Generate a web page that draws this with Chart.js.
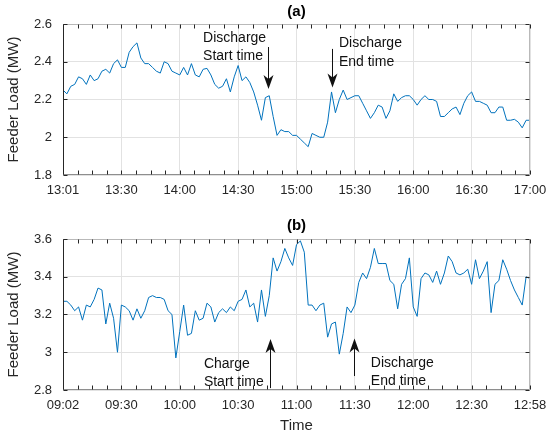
<!DOCTYPE html>
<html>
<head>
<meta charset="utf-8">
<script src="https://cdn.jsdelivr.net/npm/chart.js@4.4.1/dist/chart.umd.min.js"></script>
<style>
  body { margin: 0; background: #fff; }
  canvas { display: block; }
</style>
</head>
<body>
<canvas id="chartA" width="559" height="205"></canvas>
<canvas id="chartB" width="559" height="236"></canvas>
<script>
const timeLabelsA = ['13:01', '13:30', '14:00', '14:30', '15:00', '15:30', '16:00', '16:30', '17:00'];
const timeLabelsB = ['09:02', '09:30', '10:00', '10:30', '11:00', '11:30', '12:00', '12:30', '12:58'];

// feeder load, MW, one value every ~2 minutes
const loadA = [
  2.25, 2.23, 2.27, 2.28, 2.32, 2.31, 2.28, 2.33, 2.30, 2.31,
  2.35, 2.36, 2.34, 2.39, 2.41, 2.37, 2.37, 2.45, 2.48, 2.50,
  2.42, 2.39, 2.39, 2.37, 2.35, 2.34, 2.40, 2.39, 2.35, 2.34,
  2.33, 2.37, 2.33, 2.39, 2.33, 2.32, 2.36, 2.365, 2.33, 2.28,
  2.26, 2.27, 2.31, 2.24, 2.32, 2.38, 2.30, 2.32, 2.29, 2.24,
  2.17, 2.09, 2.21, 2.22, 2.11, 2.01, 2.04, 2.03, 2.03, 2.01,
  2.01, 1.99, 1.97, 1.95, 2.02, 2.01, 2.00, 2.00, 2.08, 2.24,
  2.13, 2.20, 2.25, 2.20, 2.21, 2.22, 2.22, 2.18, 2.14, 2.10,
  2.13, 2.17, 2.16, 2.10, 2.14, 2.23, 2.19, 2.21, 2.22, 2.22,
  2.20, 2.17, 2.20, 2.22, 2.20, 2.20, 2.19, 2.11, 2.11, 2.13,
  2.15, 2.16, 2.12, 2.18, 2.22, 2.24, 2.19, 2.19, 2.18, 2.17,
  2.13, 2.13, 2.16, 2.16, 2.09, 2.09, 2.095, 2.08, 2.05, 2.09,
  2.09
];
const loadB = [
  3.27, 3.27, 3.25, 3.22, 3.24, 3.17, 3.25, 3.24, 3.28, 3.34,
  3.33, 3.15, 3.26, 3.18, 3.00, 3.25, 3.24, 3.22, 3.17, 3.23,
  3.18, 3.22, 3.29, 3.30, 3.29, 3.29, 3.28, 3.22, 3.20, 2.97,
  3.11, 3.25, 3.09, 3.10, 3.22, 3.17, 3.18, 3.26, 3.24, 3.16,
  3.21, 3.23, 3.21, 3.24, 3.22, 3.27, 3.28, 3.33, 3.24, 3.26,
  3.16, 3.33, 3.19, 3.30, 3.50, 3.43, 3.48, 3.55, 3.50, 3.46,
  3.57, 3.59, 3.53, 3.25, 3.25, 3.22, 3.25, 3.26, 3.08, 3.15,
  3.16, 2.99, 3.10, 3.24, 3.21, 3.25, 3.37, 3.42, 3.39, 3.45,
  3.55, 3.47, 3.47, 3.47, 3.38, 3.36, 3.23, 3.36, 3.39, 3.50,
  3.24, 3.19, 3.39, 3.42, 3.41, 3.37, 3.43, 3.36, 3.42, 3.51,
  3.48, 3.42, 3.41, 3.42, 3.44, 3.36, 3.49, 3.39, 3.43, 3.48,
  3.21, 3.36, 3.38, 3.49, 3.44, 3.38, 3.33, 3.29, 3.25, 3.40,
  3.39
];
const yTicksA = [1.8, 2, 2.2, 2.4, 2.6];
const yTicksB = [2.8, 3, 3.2, 3.4, 3.6];

// text + arrow annotations, in data units (x = sample index, y = MW)
const notesA = [
  { lines: ['Discharge', 'Start time'], x: 36, y: 2.505, arrowX: 52.7, from: 2.478, to: 2.255 },
  { lines: ['Discharge', 'End time'], x: 70.9, y: 2.478, arrowX: 69, from: 2.468, to: 2.264 }
];
const notesB = [
  { lines: ['Charge', 'Start time'], x: 36.2, y: 2.918, arrowX: 53.2, from: 2.81, to: 3.07 },
  { lines: ['Discharge', 'End time'], x: 79.1, y: 2.923, arrowX: 74.9, from: 2.874, to: 3.073 }
];

const FONT = '"Liberation Sans", Arial, Helvetica, sans-serif';
Chart.defaults.font.family = FONT;
Chart.defaults.color = '#262626';

function framePlugin(notes) {
  return {
    id: 'frame',
    afterDatasetsDraw(chart) {
      const { ctx, chartArea: a, scales: { x, y } } = chart;
      const L = Math.round(a.left) + 0.5, R = Math.round(a.right) - 0.5;
      const T = Math.round(a.top) + 0.5, B = Math.round(a.bottom) - 0.5;
      ctx.save();
      ctx.lineWidth = 1;

      ctx.strokeStyle = '#b9b9b9';
      ctx.beginPath(); ctx.moveTo(L, T); ctx.lineTo(R, T); ctx.lineTo(R, B); ctx.stroke();
      ctx.strokeStyle = '#8e8e8e';
      ctx.beginPath(); ctx.moveTo(L, B); ctx.lineTo(R, B); ctx.stroke();
      ctx.strokeStyle = '#262626';
      ctx.beginPath(); ctx.moveTo(L, T); ctx.lineTo(L, B); ctx.stroke();

      // inward ticks, minor ones on x
      ctx.beginPath();
      const step = (x.ticks[1].value - x.ticks[0].value) / 4;
      for (let v = x.min; v <= x.max + 1e-6; v += step) {
        const px = Math.round(x.getPixelForValue(v)) + 0.5;
        ctx.moveTo(px, T); ctx.lineTo(px, T + 4);
        ctx.moveTo(px, B); ctx.lineTo(px, B - 4);
      }
      y.ticks.forEach(t => {
        const py = Math.round(y.getPixelForValue(t.value)) + 0.5;
        ctx.moveTo(L, py); ctx.lineTo(L + 4, py);
        ctx.moveTo(R, py); ctx.lineTo(R - 4, py);
      });
      ctx.stroke();

      ctx.font = '14px ' + FONT;
      ctx.fillStyle = '#111';
      ctx.strokeStyle = '#111';
      ctx.textBaseline = 'alphabetic';
      notes.forEach(n => {
        const tx = x.getPixelForValue(n.x), ty = y.getPixelForValue(n.y);
        n.lines.forEach((s, k) => ctx.fillText(s, tx, ty + k * 18.5));
        const ax = Math.round(x.getPixelForValue(n.arrowX)) + 0.5;
        const y0 = y.getPixelForValue(n.from), y1 = y.getPixelForValue(n.to);
        const dir = Math.sign(y1 - y0);
        ctx.beginPath(); ctx.moveTo(ax, y0); ctx.lineTo(ax, y1 - dir * 8); ctx.stroke();
        ctx.beginPath();
        ctx.moveTo(ax, y1);
        ctx.lineTo(ax - 5, y1 - dir * 14);
        ctx.lineTo(ax, y1 - dir * 10);
        ctx.lineTo(ax + 5, y1 - dir * 14);
        ctx.closePath();
        ctx.fill();
      });
      ctx.restore();
    }
  };
}

function makeChart(id, title, titlePad, labels, values, yTicks, notes, xTitle, xHeight) {
  const n = values.length - 1;
  const every = n / (labels.length - 1);
  new Chart(document.getElementById(id), {
    type: 'line',
    data: {
      datasets: [{
        data: values.map((v, i) => ({ x: i, y: v })),
        borderColor: '#0072BD',
        borderWidth: 1,
        pointRadius: 0,
        tension: 0
      }]
    },
    options: {
      responsive: false,
      animation: false,
      layout: { padding: { left: 0, right: 29, top: 0, bottom: 0 } },
      plugins: {
        legend: { display: false },
        tooltip: { enabled: false },
        title: {
          display: true,
          text: title,
          fullSize: false,
          color: '#000',
          font: { size: 15, weight: 'bold' },
          padding: titlePad
        }
      },
      scales: {
        x: {
          type: 'linear',
          min: 0,
          max: n,
          afterBuildTicks: s => { s.ticks = labels.map((l, k) => ({ value: k * every })); },
          afterFit: s => { s.height = xHeight; },
          ticks: {
            autoSkip: false,
            maxRotation: 0,
            padding: 8,
            font: { size: 13 },
            callback: v => labels[Math.round(v / every)]
          },
          grid: { color: '#e2e2e2', drawTicks: false },
          border: { display: false },
          title: {
            display: !!xTitle,
            text: xTitle,
            font: { size: 15 },
            padding: { top: 0, bottom: 6 }
          }
        },
        y: {
          min: yTicks[0],
          max: yTicks[yTicks.length - 1],
          afterBuildTicks: s => { s.ticks = yTicks.map(v => ({ value: v })); },
          afterFit: s => { s.width = 63; },
          ticks: {
            padding: 11,
            font: { size: 13 },
            callback: v => String(Number(v.toFixed(1)))
          },
          grid: { color: '#e2e2e2', drawTicks: false },
          border: { display: false },
          title: {
            display: true,
            text: 'Feeder Load (MW)',
            font: { size: 15 },
            padding: { top: 5, bottom: 0 }
          }
        }
      }
    },
    plugins: [framePlugin(notes)]
  });
}

makeChart('chartA', '(a)', { top: 3, bottom: 3 }, timeLabelsA, loadA, yTicksA, notesA, '', 30);
makeChart('chartB', '(b)', { top: 12, bottom: 4 }, timeLabelsB, loadB, yTicksB, notesB, 'Time', 51);
</script>
</body>
</html>
